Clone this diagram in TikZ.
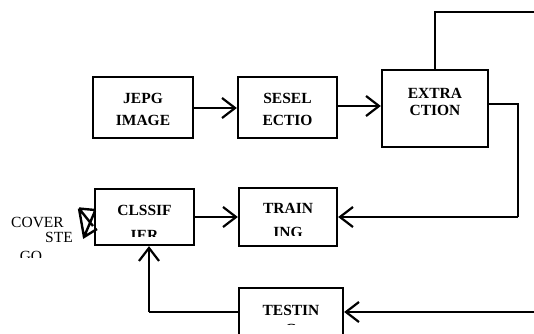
\documentclass[tikz,border=0pt]{standalone}
\usepackage{fontspec}
\setmainfont{Liberation Serif}
\usetikzlibrary{arrows.meta}
\begin{document}
\begin{tikzpicture}[x=1pt,y=-1pt,
  box/.style={draw,line width=2.3pt,minimum width=#1,inner sep=0pt},
  lbl/.style={anchor=base,inner sep=0pt,font=\fontsize{15.5}{15.5}\selectfont\bfseries},
  plain/.style={anchor=base,inner sep=0pt,font=\fontsize{15.5}{15.5}\selectfont},
  conn/.style={line width=2.2pt},
  arr/.style={line width=2.2pt,-{Straight Barb[length=13pt,width=20pt,line width=2.2pt]}}]
\useasboundingbox (0,0) rectangle (534,333);
% boxes
\node[box=100pt,minimum height=61pt] (jepg) at (143,107.5) {};
\node[box=99pt,minimum height=61pt] (sesel) at (287.5,107.5) {};
\node[box=106pt,minimum height=77pt] (extr) at (435,108.5) {};
\node[box=99pt,minimum height=56pt] (clss) at (144.5,217) {};
\node[box=98pt,minimum height=58pt] (train) at (288,217) {};
\node[box=104pt,minimum height=62pt] (test) at (291,319) {};
% texts
\node[lbl] (t1a) at (143,103) {JEPG};
\node[lbl] (t1b) at (143,125) {IMAGE};
\node[lbl] (t2a) at (287.5,103) {SESEL};
\node[lbl] (t2b) at (287.5,125) {ECTIO};
\node[lbl] (t3a) at (435,98) {EXTRA};
\node[lbl] (t3b) at (435,115) {CTION};
\node[lbl] (t4a) at (144.5,215) {CLSSIF};
\node[lbl] (t5a) at (288,213) {TRAIN};
\node[lbl] (t6a) at (291,315) {TESTIN};
\begin{scope}
\clip (95,190) rectangle (194,236);
\node[lbl] (t4b) at (144.5,240) {IER};
\end{scope}
\begin{scope}
\clip (239,190) rectangle (337,235);
\node[lbl] (t5b) at (288,237) {ING};
\end{scope}
\begin{scope}
\clip (239,290) rectangle (343,324);
\node[lbl] (t6b) at (291,334) {G};
\end{scope}
\node[plain] (c1) at (37.5,227) {COVER};
\node[plain] (c2) at (59,242) {STE};
\begin{scope}
\clip (0,240) rectangle (90,257.5);
\node[plain] (c3) at (31,261) {GO};
\end{scope}
% cover mark
\draw[line width=2.4pt,line join=miter] (79,208.5)--(95,210) (79,208.5)--(84,237)--(97,229) (79,208.5)--(93,226) (95,211)--(84,237);
% connectors
\coordinate (topend) at (534,12);
\coordinate (rtc) at (518,104);
\coordinate (rbc) at (518,217);
\coordinate (inT) at (534,312);
\coordinate (lbc) at (149,312);
\draw[arr] (jepg.east|-0,108) -- (sesel.west|-0,108);
\draw[arr] (sesel.east|-0,106) -- (extr.west|-0,106);
\draw[conn] (extr.north) -- (435,12) -- (topend);
\draw[conn] (extr.east|-rtc) -- (rtc) -- (rbc);
\draw[arr] (rbc) -- (train.east);
\draw[arr] (clss.east) -- (train.west);
\draw[arr] (inT) -- (test.east|-inT);
\draw[conn] (test.west|-inT) -- (lbc);
\draw[arr] (lbc) -- (clss.south-|lbc);
\end{tikzpicture}
\end{document}
